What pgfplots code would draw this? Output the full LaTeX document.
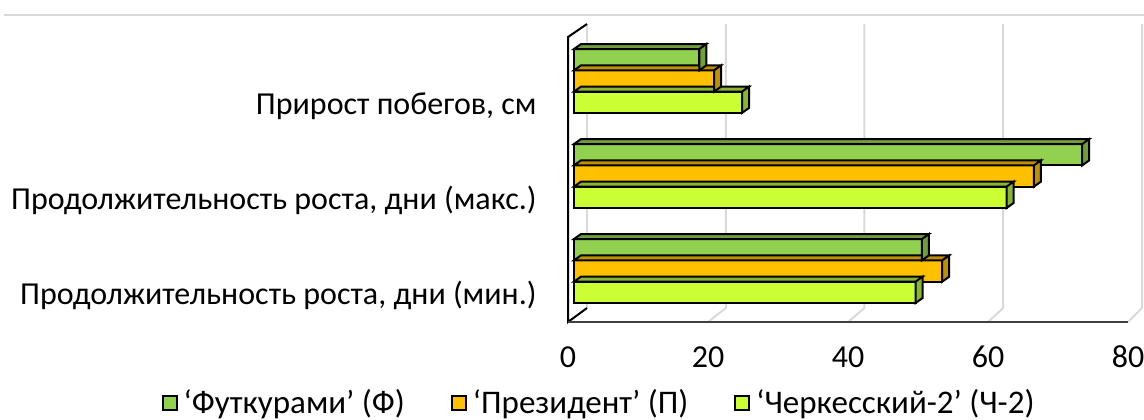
\documentclass[border=0pt]{standalone}
\usepackage{pgfplots}
\pgfplotsset{compat=1.18}
\usepackage{fontspec}
\setmainfont{Carlito}

\definecolor{futF}{HTML}{92D050}
\definecolor{futD}{HTML}{6F9E3A}
\definecolor{prsF}{HTML}{FFC000}
\definecolor{prsD}{HTML}{BF9000}
\definecolor{chkF}{HTML}{CCFF33}
\definecolor{chkD}{HTML}{8AB531}
\definecolor{gridc}{HTML}{D9D9D9}
\definecolor{floorc}{HTML}{404040}

% Top and end faces of a 3D bar; the mark sits at the middle of the bar's
% right end, \barlen is the bar value (3.5pt per unit along x).
\pgfdeclareplotmark{barcap}{%
  \pgfmathsetmacro\barlenpt{\barlen*3.5}%
  \pgfpathmoveto{\pgfpoint{-\barlenpt pt}{5.333pt}}%
  \pgfpathlineto{\pgfpoint{0pt}{5.333pt}}%
  \pgfpathlineto{\pgfpoint{3.5pt}{7.833pt}}%
  \pgfpathlineto{\pgfpoint{-\barlenpt pt+3.5pt}{7.833pt}}%
  \pgfpathclose
  \pgfpathmoveto{\pgfpoint{0pt}{-5.333pt}}%
  \pgfpathlineto{\pgfpoint{0pt}{5.333pt}}%
  \pgfpathlineto{\pgfpoint{3.5pt}{7.833pt}}%
  \pgfpathlineto{\pgfpoint{3.5pt}{-2.833pt}}%
  \pgfpathclose
  \pgfusepathqfillstroke
}

\pgfplotsset{
  barfront/.style={xbar, bar width=21.33, bar shift=0pt, draw=black,
    line width=1pt, fill=#1, xshift=3pt, forget plot},
  barcaps/.style={only marks, mark=barcap, xshift=3pt, forget plot,
    visualization depends on={rawx \as \barlen},
    mark options={fill=#1, draw=black, line width=1pt}},
  gridl/.style={gridc, line width=1pt, forget plot},
}

\begin{document}
\begin{tikzpicture}
\path[use as bounding box] (-284pt,-48.5pt) rectangle (288pt,161pt);
\begin{axis}[
  x=3.5pt, y=0.5pt,
  xmin=0, xmax=80, ymin=0, ymax=302,
  clip=false,
  axis line style={draw=none},
  tick style={draw=none},
  xtick={0,20,40,60,80},
  ytick={18,113,208},
  yticklabels={{Продолжительность роста, дни (мин.)},
               {Продолжительность роста, дни (макс.)},
               {Прирост побегов, см}},
  /pgf/number format/assume math mode=true,
  ticklabel style={font=\fontsize{16}{19}\selectfont, text=black},
  xticklabel style={anchor=base, inner sep=0pt, yshift=-22.5pt},
  yticklabel style={anchor=base east, inner sep=0pt, xshift=-15.5pt},
  legend style={at={(0.0555,-0.268)}, anchor=center, draw=none, fill=none,
    inner sep=0pt, legend columns=3, font=\fontsize{16.5}{19}\selectfont,
    nodes={inner sep=1pt},
    /tikz/every even column/.append style={column sep=22pt}},
  legend image code/.code={%
    \draw[#1, draw=black, line width=1pt] (0pt,-3.5pt) rectangle (7pt,3.5pt);
    \path[draw=none, fill=none] (0pt,0pt) (9.5pt,0pt);},
]
% back wall and floor grid
\addplot[gridl] coordinates {(2.714,14) (2.714,298)};
\addplot[gridl] coordinates {(20,0) (22.54,14) (22.54,298)};
\addplot[gridl] coordinates {(40,0) (42.35,14) (42.35,298)};
\addplot[gridl] coordinates {(60,0) (62.17,14) (62.17,298)};
\addplot[gridl] coordinates {(80,0) (82.0,14) (82.0,298)};
% outer frame line at the top
\addplot[gridl] coordinates {(-80.5,307) (82.3,307)};

% 'Черкесский-2' (Ч-2)
\addplot[barcaps=chkD] coordinates {(24,219.7) (61.8,124.7) (48.8,29.7)};
\addplot[barfront=chkF] coordinates {(24,219.7) (61.8,124.7) (48.8,29.7)};
% 'Президент' (П)
\addplot[barcaps=prsD] coordinates {(20,241) (65.7,146) (52.6,51)};
\addplot[barfront=prsF] coordinates {(20,241) (65.7,146) (52.6,51)};
% 'Футкурами' (Ф)
\addplot[barcaps=futD] coordinates {(17.9,262.3) (72.6,167.3) (49.7,72.3)};
\addplot[barfront=futF] coordinates {(17.9,262.3) (72.6,167.3) (49.7,72.3)};

% category axis and floor edges
\addplot[black, line width=1pt, forget plot] coordinates {(2.714,298) (0,285) (0,0) (2.714,14)};
\addplot[floorc, line width=1pt, forget plot] coordinates {(0,0) (80,0)};

\addlegendimage{fill=futF}\addlegendentry{‘Футкурами’ (Ф)}
\addlegendimage{fill=prsF}\addlegendentry{‘Президент’ (П)}
\addlegendimage{fill=chkF}\addlegendentry{‘Черкесский-2’ (Ч-2)}
\end{axis}
\end{tikzpicture}
\end{document}
